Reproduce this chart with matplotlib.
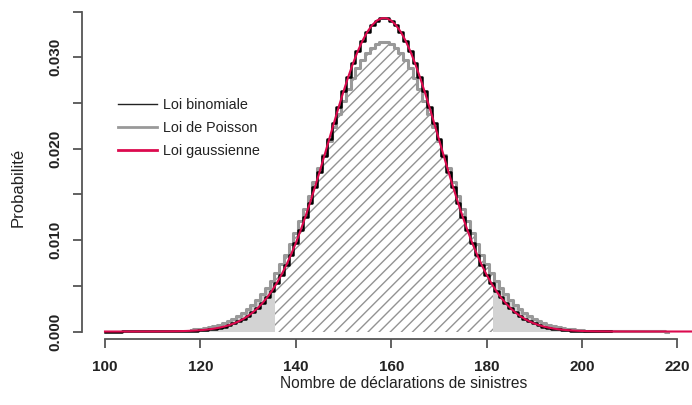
import matplotlib
matplotlib.use("Agg")
import matplotlib.pyplot as plt
from matplotlib.patches import Rectangle
from matplotlib.lines import Line2D

plt.rcParams['font.family'] = ['Liberation Sans', 'DejaVu Sans']
plt.rcParams['hatch.linewidth'] = 1.0

# --- data ---
binom_k = list(range(100, 207))
binom_p = [
    0.0000001, 0.0000002, 0.0000003, 0.0000004, 0.0000006, 0.0000009, 0.0000013,
    0.0000019, 0.0000028, 0.0000040, 0.0000057, 0.0000082, 0.0000116, 0.0000163,
    0.0000227, 0.0000315, 0.0000432, 0.0000589, 0.0000797, 0.000107, 0.000143,
    0.000189, 0.000249, 0.000325, 0.000421, 0.000542, 0.000691, 0.000876,
    0.001101, 0.001375, 0.001703, 0.002095, 0.002558, 0.003100, 0.003729,
    0.004453, 0.005278, 0.006211, 0.007255, 0.008411, 0.009679, 0.011057,
    0.012538, 0.014113, 0.015768, 0.017488, 0.019252, 0.021039, 0.022821,
    0.024572, 0.026263, 0.027863, 0.029343, 0.030673, 0.031829, 0.032784,
    0.033520, 0.034019, 0.034271,
    0.034271, 0.034019, 0.033520, 0.032784, 0.031829, 0.030673, 0.029343,
    0.027863, 0.026263, 0.024572, 0.022821, 0.021039, 0.019252, 0.017488,
    0.015768, 0.014113, 0.012538, 0.011057, 0.009679, 0.008411, 0.007255,
    0.006211, 0.005278, 0.004453, 0.003729, 0.003100, 0.002558, 0.002095,
    0.001703, 0.001375, 0.001101, 0.000876, 0.000691, 0.000542, 0.000421,
    0.000325, 0.000249, 0.000189, 0.000143, 0.000107, 0.0000797, 0.0000589,
    0.0000432, 0.0000315, 0.0000227, 0.0000163, 0.0000116, 0.0000082,
]

pois_k = list(range(118, 219))
pois_p = [
    0.000179, 0.000231, 0.000295, 0.000375, 0.000474, 0.000595, 0.000742,
    0.000919, 0.001132, 0.001385, 0.001685, 0.002035, 0.002444, 0.002916,
    0.003458, 0.004074, 0.004770, 0.005550, 0.006417, 0.007373, 0.008417,
    0.009549, 0.010765, 0.012060, 0.013425, 0.014851, 0.016325, 0.017833,
    0.019357, 0.020879, 0.022379, 0.023836, 0.025230, 0.026536, 0.027734,
    0.028804, 0.029727, 0.030487, 0.031069, 0.031464, 0.031663,
    0.031663, 0.031464, 0.031069, 0.030487, 0.029727, 0.028804, 0.027734,
    0.026536, 0.025230, 0.023836, 0.022379, 0.020879, 0.019357, 0.017833,
    0.016325, 0.014851, 0.013425, 0.012060, 0.010765, 0.009549, 0.008417,
    0.007373, 0.006417, 0.005550, 0.004770, 0.004074, 0.003458, 0.002916,
    0.002444, 0.002035, 0.001685, 0.001385, 0.001132, 0.000919, 0.000742,
    0.000595, 0.000474, 0.000375, 0.000295, 0.000231, 0.000179, 0.000138,
    0.000106, 0.0000811, 0.0000615, 0.0000463, 0.0000346, 0.0000257,
    0.0000190, 0.0000139, 0.0000102, 0.0000074, 0.0000053, 0.0000038,
    0.0000027, 0.0000019, 0.0000013, 0.0000009, 0.0000006, 0.0000004,
]

# gaussian curve passes through the binomial midpoints, then a flat tail
gauss_x = list(range(100, 225))
gauss_y = binom_p + [
    0.0000057, 0.0000040, 0.0000028, 0.0000019, 0.0000013, 0.0000009,
    0.0000006, 0.0000004, 0.0000003, 0.0000002, 0.0000001, 0.0000001,
    0.0, 0.0, 0.0, 0.0, 0.0, 0.0,
]

# 95% interval (hatched part)
ci_low, ci_high = 135.7, 181.3

x_ticks = [100, 120, 140, 160, 180, 200, 220]
y_ticks = [0.0, 0.005, 0.010, 0.015, 0.020, 0.025, 0.030, 0.035]
y_ticklabels = ["0.000", "", "0.010", "", "0.020", "", "0.030", ""]

fig = plt.figure(figsize=(6.92, 4.05), dpi=100)
ax = fig.add_axes([82 / 692, 1 - 339 / 405, 610 / 692, 334 / 405])
ax.set_xlim(95.18, 223.06)
ax.set_ylim(-0.00082, 0.03572)

# grey tails under the Poisson steps
for x0, x1 in [(90, ci_low), (ci_high, 240)]:
    tail = ax.fill_between(pois_k, 0, pois_p, step='mid', facecolor='#d3d3d3',
                           edgecolor='none', linewidth=0, zorder=1)
    tail.set_clip_path(Rectangle((x0, -1), x1 - x0, 2, transform=ax.transData))

mid = ax.fill_between(pois_k, 0, pois_p, step='mid', facecolor='white',
                      edgecolor='#939393', hatch='///', linewidth=0, zorder=1)
mid.set_clip_path(Rectangle((ci_low, -1), ci_high - ci_low, 2, transform=ax.transData))

ax.step(pois_k, pois_p, where='mid', color='#999999', lw=2.2, zorder=2)
ax.step(binom_k, binom_p, where='mid', color='black', lw=1.8, zorder=3)
ax.plot(gauss_x, gauss_y, color='#dc0a4e', lw=1.5, zorder=4)

handles = [
    Line2D([], [], color='#222222', lw=1.0),
    Line2D([], [], color='#999999', lw=2.0),
    Line2D([], [], color='#dc0a4e', lw=2.0),
]
ax.legend(handles, ["Loi binomiale", "Loi de Poisson", "Loi gaussienne"],
          loc='center left', bbox_to_anchor=(118 / 692, 1 - 128 / 405),
          bbox_transform=fig.transFigure, frameon=False, fontsize=10.4,
          handlelength=2.7, handletextpad=0.4, labelspacing=0.62,
          borderpad=0, borderaxespad=0, labelcolor='#222222')

for s in ['top', 'right']:
    ax.spines[s].set_visible(False)
ax.spines['left'].set_bounds(0, 0.035)
ax.spines['bottom'].set_bounds(100, 220)
for s in ['left', 'bottom']:
    ax.spines[s].set_color('#555555')
    ax.spines[s].set_linewidth(1.3)

ax.set_xticks(x_ticks)
ax.set_xticklabels([str(v) for v in x_ticks], fontweight='bold')
ax.set_yticks(y_ticks)
ax.set_yticklabels(y_ticklabels, fontweight='bold', rotation=90, va='center')
ax.tick_params(axis='both', length=6.5, width=1.3, color='#555555',
               labelcolor='#222222', labelsize=11)
ax.tick_params(axis='x', pad=8.5)
ax.tick_params(axis='y', pad=7.5)

fig.text(404 / 692, 1 - 383 / 405, "Nombre de déclarations de sinistres",
         ha='center', va='center', fontsize=11.2, color='#222222')
fig.text(18 / 692, 1 - 187 / 405, "Probabilité", ha='center', va='center',
         rotation=90, fontsize=12, color='#222222')

fig.savefig("out.png", dpi=100)
